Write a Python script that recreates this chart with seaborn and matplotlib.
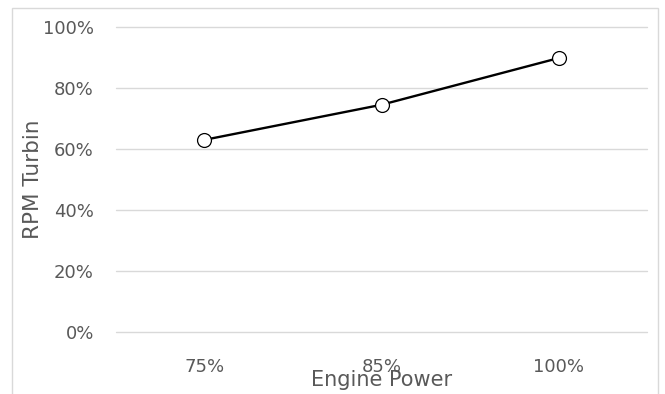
import matplotlib
matplotlib.use("Agg")
import matplotlib.pyplot as plt
import seaborn as sns
import pandas as pd
from matplotlib.patches import Rectangle
from matplotlib.ticker import FuncFormatter

# Turbine speed (as % of rated RPM) against engine power setting
engine_power = ["75%", "85%", "100%"]
rpm_turbin = [63.0, 74.5, 89.8]
y_ticks = [0, 20, 40, 60, 80, 100]

df = pd.DataFrame({"Engine Power": engine_power, "RPM Turbin": rpm_turbin})

sns.set_theme(style="white")
plt.rcParams["font.family"] = ["DejaVu Sans"]

text_color = "#595959"
grid_color = "#d9d9d9"

fig = plt.figure(figsize=(6.65, 3.94), dpi=100)
ax = fig.add_axes([0.1744, 0.1574, 0.7986, 0.7741])

sns.lineplot(data=df, x="Engine Power", y="RPM Turbin", ax=ax,
             color="black", linewidth=1.7, marker="o", markersize=10,
             markerfacecolor="white", markeredgecolor="black",
             markeredgewidth=0.9, sort=False, zorder=3)

ax.set_xlim(-0.5, len(engine_power) - 0.5)
ax.set_ylim(0, 100)
ax.set_yticks(y_ticks)
ax.yaxis.set_major_formatter(FuncFormatter(lambda v, _: f"{v:.0f}%"))

for t in y_ticks:
    ax.axhline(t, color=grid_color, linewidth=1.0, zorder=1, clip_on=False)

for s in ax.spines.values():
    s.set_visible(False)

ax.tick_params(axis="both", length=0, labelsize=13, labelcolor=text_color)
ax.tick_params(axis="y", pad=16)
ax.tick_params(axis="x", pad=19)

ax.set_xlabel("Engine Power", fontsize=15, color=text_color, va="center")
ax.xaxis.set_label_coords(0.5, -0.157)
ax.set_ylabel("RPM Turbin", fontsize=15.5, color=text_color, va="center")
ax.yaxis.set_label_coords(-0.156, 0.5)

# chart-area frame
fig.patches.append(Rectangle((12 / 665, -0.05), 646 / 665, 1 - 8 / 394 + 0.05,
                             transform=fig.transFigure, fill=False,
                             edgecolor=grid_color, linewidth=1.0, zorder=0))

fig.savefig("out.png", dpi=100)
